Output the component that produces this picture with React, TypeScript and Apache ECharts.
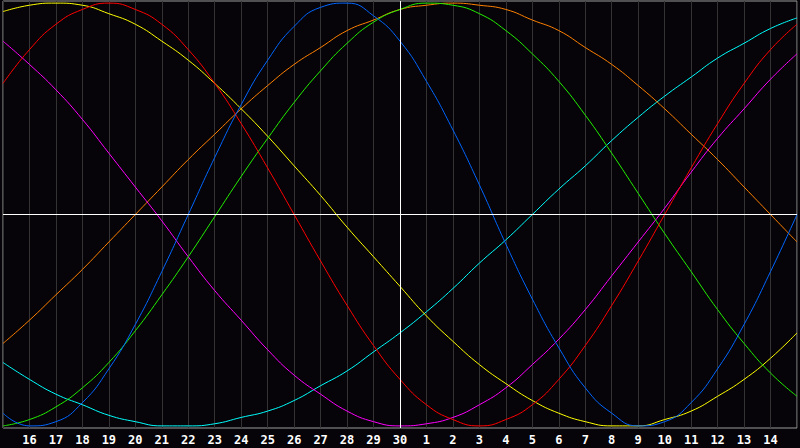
import React, { useEffect, useRef } from "react";
import * as echarts from "echarts";

// day offsets 0..30 from the left edge; labels of those days
const dayLabels = [
  "15", "16", "17", "18", "19", "20", "21", "22", "23", "24", "25", "26", "27", "28", "29", "30",
  "1", "2", "3", "4", "5", "6", "7", "8", "9", "10", "11", "12", "13", "14", "15",
];

// curve values (percent) read at each day offset 0..30
const blue = [-94, -100, -98, -89, -73, -52, -27, 0, 27, 52, 73, 89, 98, 100, 94, 82, 63, 40, 14, -14, -40, -63, -82, -94, -100, -98, -89, -73, -52, -27, 0];
const red = [62, 78, 90, 97, 100, 97, 90, 78, 62, 43, 22, 0, -22, -43, -62, -78, -90, -97, -100, -97, -90, -78, -62, -43, -22, 0, 22, 43, 62, 78, 90];
const green = [-100, -97, -91, -82, -70, -55, -38, -20, -1, 18, 36, 53, 68, 81, 91, 97, 100, 99, 95, 87, 76, 63, 47, 29, 10, -9, -27, -45, -61, -75, -86];
const magenta = [82, 71, 59, 45, 29, 13, -3, -20, -36, -50, -64, -76, -85, -93, -98, -100, -99, -96, -90, -82, -71, -59, -45, -29, -13, 3, 20, 36, 50, 64, 76];
const yellow = [96, 99, 100, 99, 95, 90, 82, 73, 62, 50, 37, 23, 9, -6, -20, -34, -48, -60, -71, -80, -88, -94, -98, -100, -100, -97, -93, -86, -78, -68, -56];
const orange = [-61, -50, -38, -26, -13, 0, 13, 26, 38, 50, 61, 71, 79, 87, 92, 97, 99, 100, 99, 97, 92, 87, 79, 71, 61, 50, 38, 26, 13, 0, -13];
const cyan = [-70, -78, -85, -90, -95, -98, -100, -100, -99, -96, -93, -88, -81, -74, -65, -56, -46, -35, -23, -12, 0, 12, 23, 35, 46, 56, 65, 74, 81, 88, 93];

const seriesList: [string, number[], string][] = [
  ["Spiritual", cyan, "#00ffff"],
  ["Awareness", orange, "#ff8000"],
  ["Intuitive", magenta, "#ff00ff"],
  ["Aesthetic", yellow, "#ffff00"],
  ["Intellectual", green, "#22ee00"],
  ["Emotional", red, "#ff0000"],
  ["Physical", blue, "#0066ff"],
];

export default function App() {
  const ref = useRef<HTMLDivElement>(null);
  useEffect(() => {
    if (!ref.current) return;
    const chart = echarts.init(ref.current, null, { renderer: "svg" });
    const series: any[] = seriesList.map(([name, vals, color]) => ({
      name,
      type: "line",
      data: vals.map((v, i) => [i, v]),
      smooth: 0.5,
      showSymbol: false,
      symbol: "none",
      lineStyle: { color, width: 1 },
      itemStyle: { color },
      z: 3,
    }));
    series.push({
      type: "line",
      data: [],
      silent: true,
      z: 2,
      markLine: {
        silent: true,
        symbol: "none",
        label: { show: false },
        lineStyle: { color: "#ffffff", width: 1, type: "solid" },
        data: [{ xAxis: 15 }, { yAxis: 0 }],
      },
    });
    chart.setOption({
      animation: false,
      backgroundColor: "#060408",
      grid: {
        left: 1,
        right: 1,
        top: 1,
        bottom: 20,
        show: true,
        borderColor: "#9a9a9a",
        borderWidth: 1,
        backgroundColor: "#060408",
      },
      xAxis: {
        type: "value",
        min: 0,
        max: 30,
        interval: 1,
        axisLine: { show: false },
        axisTick: { show: false },
        splitLine: { show: true, lineStyle: { color: "#333333", width: 1 } },
        axisLabel: {
          color: "#ffffff",
          fontFamily: "DejaVu Sans Mono",
          fontWeight: "bold",
          fontSize: 12,
          margin: 6,
          formatter: (v: number) => (v <= 0 || v >= 30 ? "" : dayLabels[v]),
        },
      },
      yAxis: {
        type: "value",
        min: -101,
        max: 101,
        axisLine: { show: false },
        axisTick: { show: false },
        axisLabel: { show: false },
        splitLine: { show: false },
      },
      series,
    });
    return () => chart.dispose();
  }, []);
  return (
    <div
      ref={ref}
      style={{ position: "fixed", left: 0, top: 0, width: 800, height: 448, background: "#060408" }}
    />
  );
}
